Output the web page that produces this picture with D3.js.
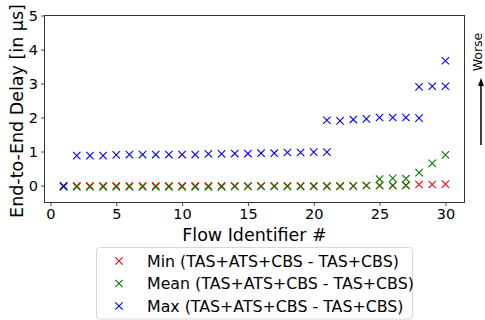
<!DOCTYPE html>
<html><head><meta charset="utf-8">
<script src="https://cdn.jsdelivr.net/npm/d3@7"></script>
<style>body{margin:0;background:#fff;} svg{display:block;font-family:"DejaVu Sans",sans-serif;}</style>
</head><body>
<svg id="c" width="485" height="320"></svg>
<script>
const minFlows = [1,2,3,4,5,6,7,8,9,10,11,12,13,14,15,16,17,18,19,20,21,22,23,24,25,26,27,28,29,30];
const minValues = [-0.01,-0.01,-0.01,-0.01,-0.01,-0.01,-0.01,-0.01,-0.01,-0.01,-0.01,-0.01,-0.01,-0.01,-0.01,-0.01,-0.01,-0.01,-0.01,-0.01,-0.01,-0.01,-0.01,0.0,0.0,0.0,0.01,0.03,0.03,0.04];
const meanFlows = [1,2,3,4,5,6,7,8,9,10,11,12,13,14,15,16,17,18,19,20,21,22,23,24,25,26,27,25,26,27,28,29,30];
const meanValues = [-0.04,-0.04,-0.04,-0.04,-0.04,-0.04,-0.04,-0.04,-0.04,-0.04,-0.04,-0.04,-0.04,-0.03,-0.03,-0.03,-0.03,-0.03,-0.03,-0.03,-0.03,-0.03,-0.02,0.0,0.0,0.0,0.0,0.19,0.21,0.2,0.38,0.65,0.9];
const maxFlows = [1,2,3,4,5,6,7,8,9,10,11,12,13,14,15,16,17,18,19,20,21,21,22,23,24,25,26,27,28,28,29,30,30];
const maxValues = [-0.02,0.88,0.88,0.88,0.9,0.91,0.91,0.91,0.91,0.91,0.91,0.93,0.93,0.94,0.94,0.95,0.95,0.97,0.97,0.98,0.98,1.92,1.9,1.94,1.96,2.0,2.0,2.0,1.98,2.9,2.92,2.92,3.67];
const xTicks = [0,5,10,15,20,25,30];
const yTicks = [0,1,2,3,4,5];
const seriesNames = ["Min (TAS+ATS+CBS - TAS+CBS)","Mean (TAS+ATS+CBS - TAS+CBS)","Max (TAS+ATS+CBS - TAS+CBS)"];
const seriesColors = ["#ff0000","#008000","#0000ff"];

const svg = d3.select("#c");
const L = 44.5, R = 464.5, T = 15.5, B = 202.5;
const x = d3.scaleLinear().domain([-0.45, 31.45]).range([L, R]);
const y = d3.scaleLinear().domain([-0.5, 5]).range([B, T]);

const series = [
  minFlows.map((f,i)=>[f,minValues[i]]),
  meanFlows.map((f,i)=>[f,meanValues[i]]),
  maxFlows.map((f,i)=>[f,maxValues[i]])
];

const ms = 3.7;
function cross(g, cx, cy, color){
  g.append("path")
   .attr("d", `M${cx-ms},${cy-ms}L${cx+ms},${cy+ms}M${cx-ms},${cy+ms}L${cx+ms},${cy-ms}`)
   .attr("stroke", color).attr("stroke-width", 1.1).attr("fill","none");
}
const pg = svg.append("g");
series.forEach((s,k)=>{
  s.forEach(d=>cross(pg, x(d[0]), y(d[1]), seriesColors[k]));
});

// axes
const xa = svg.append("g").attr("transform",`translate(0,${B})`)
  .call(d3.axisBottom(x).tickValues(xTicks).tickSize(3.5).tickPadding(3).tickFormat(d3.format("d")));
const ya = svg.append("g").attr("transform",`translate(${L},0)`)
  .call(d3.axisLeft(y).tickValues(yTicks).tickSize(3.5).tickPadding(3).tickFormat(d3.format("d")));
[xa,ya].forEach(a=>{
  a.select(".domain").remove();
  a.selectAll(".tick line").attr("stroke","#333").attr("stroke-width",0.9);
  a.selectAll(".tick text").attr("font-size",14.5).attr("fill","#000").attr("font-family","DejaVu Sans");
});
svg.append("rect").attr("x",L).attr("y",T).attr("width",R-L).attr("height",B-T)
  .attr("fill","none").attr("stroke","#333").attr("stroke-width",1);

// labels
svg.append("text").attr("x",(L+R)/2).attr("y",241).attr("text-anchor","middle")
  .attr("font-size",17.5).text("Flow Identifier #");
svg.append("text").attr("transform",`translate(23,${(T+B)/2+2}) rotate(-90)`).attr("text-anchor","middle")
  .attr("font-size",17.5).text("End-to-End Delay [in µs]");

// worse arrow
svg.append("text").attr("transform",`translate(482,52) rotate(-90)`).attr("text-anchor","middle")
  .attr("font-size",12.5).text("Worse");
svg.append("line").attr("x1",481).attr("x2",481).attr("y1",145).attr("y2",84)
  .attr("stroke","#000").attr("stroke-width",1.5);
svg.append("path").attr("d","M481,78L478,86L484,86Z").attr("fill","#000");

// legend
const lg = svg.append("g");
lg.append("rect").attr("x",96.5).attr("y",247.5).attr("width",316).attr("height",71.5).attr("rx",3)
  .attr("fill","#fff").attr("stroke","#d8d8d8").attr("stroke-width",1);
seriesNames.forEach((n,i)=>{
  const cy = 261 + i*22.5;
  cross(lg, 119, cy, seriesColors[i]);
  lg.append("text").attr("x",147).attr("y",cy+5.5).attr("font-size",15.8).text(n);
});
</script>
</body></html>
